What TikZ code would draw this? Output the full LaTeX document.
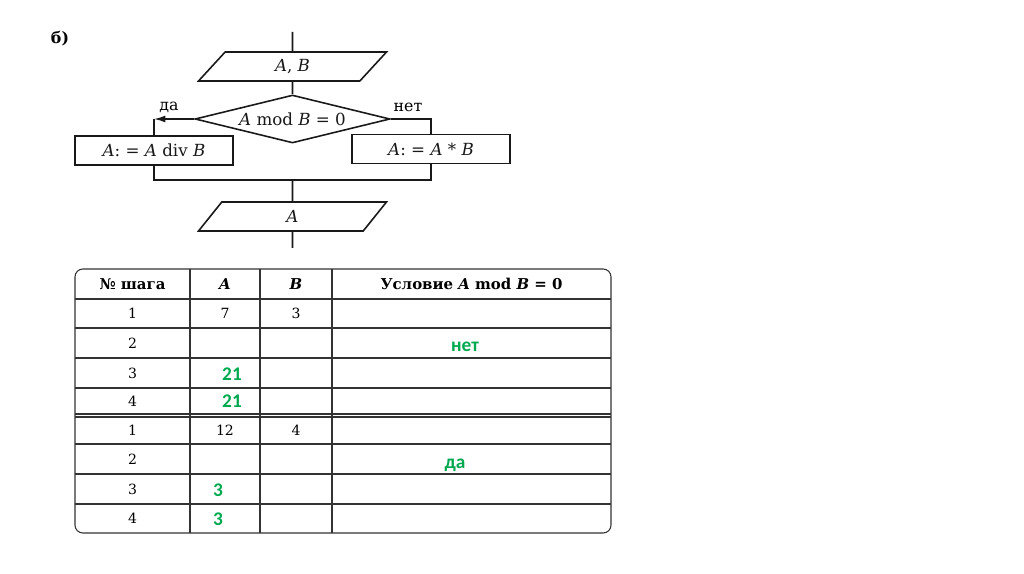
\documentclass[tikz,border=0pt]{standalone}
\usepackage{fontspec}
\setmainfont{DejaVu Serif}
\newfontfamily\answerfont{Carlito}
\usepackage{xcolor}
\usetikzlibrary{calc, shapes.geometric, positioning, arrows.meta}
\definecolor{answergreen}{RGB}{0,168,80}

\tikzset{
    flow/.style={line width=0.9pt, black!90},
    grid/.style={line width=0.6pt, black!80},
    block/.style={draw, flow, rectangle, minimum width=3.16cm, minimum height=0.58cm,
        inner sep=1pt, font=\fontsize{9.5}{11}\selectfont},
    io/.style={draw, flow, trapezium, trapezium left angle=34, trapezium right angle=146,
        trapezium stretches body=true, minimum width=3.76cm, minimum height=0.58cm,
        inner sep=1pt, font=\fontsize{9.5}{11}\selectfont},
    cond/.style={draw, flow, diamond, aspect=4, minimum width=3.9cm, minimum height=0.96cm,
        inner sep=0pt, font=\fontsize{9.5}{11}\selectfont},
    lab/.style={inner sep=0pt, font=\fontsize{9}{11}\selectfont},
    cell/.style={inner sep=0pt, font=\fontsize{8}{9}\selectfont},
    head/.style={inner sep=0pt, font=\fontsize{8.5}{10}\selectfont\bfseries},
    answer/.style={inner sep=0pt, text=answergreen, font=\answerfont\fontsize{11}{13}\selectfont\bfseries},
}

\begin{document}
\begin{tikzpicture}[>=latex, x=0.02cm, y=-0.02cm]
    \useasboundingbox (0,0) rectangle (1024,574);

    % 1. Подпись пункта
    \node[lab, font=\fontsize{9}{11}\selectfont\bfseries] (part) at (60,39) {б)};

    % 2. Блок-схема
    \coordinate (start) at (292.5,32);
    \node[io] (inAB) at (292.5,66.5) {\textit{A}, \textit{B}};
    \node[cond] (check) at (292.5,119) {\textit{A} mod \textit{B} = 0};
    \node[block] (divbox) at (154,150.5) {\textit{A}: = \textit{A} div \textit{B}};
    \node[block] (mulbox) at (431,149) {\textit{A}: = \textit{A} * \textit{B}};
    \coordinate (join) at (292.5,180);
    \node[io] (outA) at (292.5,216.5) {\textit{A}};
    \coordinate (finish) at (292.5,248);
    \coordinate (yes) at (divbox.north |- check.west);

    \node[lab] (yeslbl) at (169,107) {да};
    \node[lab] (nolbl) at (408,107) {нет};

    \draw[flow] (start) -- (inAB);
    \draw[flow] (inAB) -- (check);
    \draw[flow, -{Latex[length=6.5pt, width=4pt]}] (check.west) -- (yes);
    \draw[flow] (yes) -- (divbox.north);
    \draw[flow] (check.east) -| (mulbox.north);
    \draw[flow] (divbox.south) |- (join);
    \draw[flow] (mulbox.south) |- (join);
    \draw[flow] (join) -- (outA);
    \draw[flow] (outA) -- (finish);

    % 3. Таблица трассировки
    \draw[grid, rounded corners=4.5pt] (75,269) rectangle (611,533);
    \foreach \yy in {299,328,358,388,414,417,444,474,504}
        \draw[grid] (75,\yy) -- (611,\yy);
    \foreach \xx in {190,260,332}
        \draw[grid] (\xx,269) -- (\xx,533);

    \node[head] (hstep) at (132.5,284) {№ шага};
    \node[head] (hA) at (225,284) {\textit{A}};
    \node[head] (hB) at (296,284) {\textit{B}};
    \node[head] (hcond) at (471.5,284) {Условие \textit{A} mod \textit{B} = 0};

    \foreach \yy/\n [count=\i] in {313.5/1, 343/2, 373/3, 401/4, 430.5/1, 459/2, 489/3, 518.5/4}
        \node[cell] (step\i) at (132.5,\yy) {\n};

    \node[cell] (a1) at (225,313.5) {7};
    \node[cell] (b1) at (296,313.5) {3};
    \node[cell] (a5) at (225,430.5) {12};
    \node[cell] (b5) at (296,430.5) {4};

    % 4. Ответы (зелёным)
    \node[answer] (ans2) at (465,347) {нет};
    \node[answer] (a3) at (232,374) {21};
    \node[answer] (a4) at (232,401) {21};
    \node[answer] (ans6) at (455,465) {да};
    \node[answer] (a7) at (218,490) {3};
    \node[answer] (a8) at (218,519) {3};

\end{tikzpicture}
\end{document}
